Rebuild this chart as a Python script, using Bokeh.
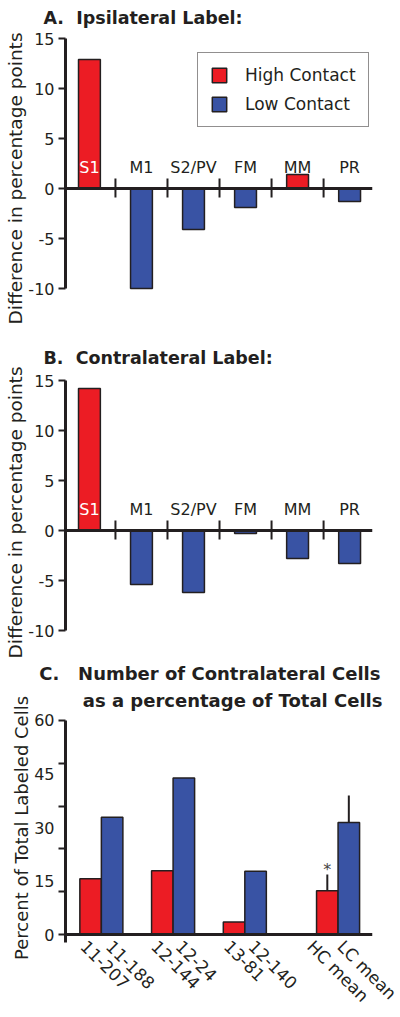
import math
from bokeh.plotting import figure
from bokeh.layouts import column
from bokeh.models import Range1d, LinearAxis, FixedTicker, Span, Title, ColumnDataSource
from bokeh.transform import factor_cmap
from bokeh.core.properties import value
from bokeh.embed import file_html
from bokeh.resources import INLINE

# ---------------- data ----------------
regions = ["S1", "M1", "S2/PV", "FM", "MM", "PR"]
ipsi_diff = [12.9, -10.0, -4.1, -1.9, 1.4, -1.3]
ipsi_group = ["High Contact", "Low Contact", "Low Contact", "Low Contact", "High Contact", "Low Contact"]
contra_diff = [14.2, -5.4, -6.2, -0.3, -2.8, -3.3]
contra_group = ["High Contact", "Low Contact", "Low Contact", "Low Contact", "Low Contact", "Low Contact"]

hc_cases = ["11-207", "12-144", "13-81", "HC mean"]
hc_pct = [15.6, 17.9, 3.5, 12.3]
lc_cases = ["11-188", "12-24", "12-140", "LC mean"]
lc_pct = [32.9, 43.9, 17.7, 31.4]
hc_mean_err = 4.5
lc_mean_err = 7.6

diff_ticks = [-10, -5, 0, 5, 10, 15]
pct_label_ticks = [0, 15, 30, 45, 60]
pct_mark_ticks = [0, 12, 24, 36, 48, 60]
groups = ["High Contact", "Low Contact"]

# ---------------- style / layout ----------------
FONT = "DejaVu Sans"
RED = "#EC1C24"
BLUE = "#3953A4"
INK = "#231F20"
W = 400
NB = "\u00a0"


def label_axis(p, label, size, standoff):
    lab = LinearAxis(ticker=FixedTicker(ticks=[]), axis_line_color=None,
                     major_tick_line_color=None, minor_tick_line_color=None,
                     major_label_standoff=0, major_tick_out=0, major_tick_in=0,
                     axis_label=label, axis_label_standoff=standoff,
                     axis_label_text_font=FONT, axis_label_text_font_size=size,
                     axis_label_text_font_style="normal", axis_label_text_color=INK)
    p.add_layout(lab, "left")


def style_y(ax):
    ax.axis_line_width = 3
    ax.axis_line_color = INK
    ax.major_tick_in = 0
    ax.major_tick_out = 7
    ax.major_tick_line_width = 2
    ax.major_tick_line_color = INK
    ax.minor_tick_line_color = None
    ax.major_label_text_font = FONT
    ax.major_label_text_font_size = "16px"
    ax.major_label_text_color = INK
    ax.major_label_standoff = 4


def diff_panel(title, vals, grp, height, top, bottom, y0, y1, legend):
    p = figure(width=W, height=height, output_backend="svg", toolbar_location=None,
               x_range=Range1d(0.04, 5.94), y_range=Range1d(y0, y1),
               x_axis_location=None, min_border_left=65, min_border_right=28,
               min_border_top=top, min_border_bottom=bottom)
    p.xgrid.visible = False
    p.ygrid.visible = False
    p.outline_line_color = None
    p.title.text = title
    p.title.text_font = FONT
    p.title.text_font_size = "17.5px"
    p.title.text_font_style = "bold"
    p.title.text_color = INK
    p.title.align = "left"
    p.title.offset = -22
    p.title.standoff = 6

    cat_x = [i + 0.5 for i in range(len(regions))]
    cds = ColumnDataSource(dict(x=cat_x, top=vals, group=grp))
    kw = dict(x="x", top="top", bottom=0, width=0.42, source=cds,
              fill_color=factor_cmap("group", [RED, BLUE], groups),
              line_color=INK, line_width=1.5)
    if legend:
        p.vbar(legend_group="group", **kw)
    else:
        p.vbar(**kw)

    p.add_layout(Span(location=0, dimension="width", line_color=INK, line_width=3))
    sep_x = list(range(1, len(regions)))
    p.segment(x0=sep_x, y0=[-0.9] * len(sep_x), x1=sep_x, y1=[1.0] * len(sep_x),
              line_color=INK, line_width=2)
    label_colors = ["white" if v > 2.1 else INK for v in vals]
    p.text(x=cat_x, y=[2.1] * len(cat_x), text=regions, text_color=label_colors,
           text_align="center", text_baseline="middle",
           text_font=value(FONT), text_font_size="16px")

    ax = p.yaxis[0]
    ax.ticker = FixedTicker(ticks=diff_ticks)
    ax.bounds = (min(diff_ticks), max(diff_ticks))
    ax.major_label_overrides = {t: str(t) for t in diff_ticks}
    style_y(ax)
    label_axis(p, "Difference in percentage points", "18.5px", 0)

    if legend:
        lg = p.legend[0]
        lg.location = (132, 199)
        lg.border_line_color = INK
        lg.border_line_width = 1.4
        lg.background_fill_color = "white"
        lg.background_fill_alpha = 1
        lg.glyph_width = 18
        lg.glyph_height = 18
        lg.label_height = 18
        lg.spacing = 9
        lg.padding = 12
        lg.margin = 0
        lg.label_standoff = 17
        lg.label_text_font = FONT
        lg.label_text_font_size = "17px"
        lg.label_text_color = INK
    return p


pA = diff_panel("A." + NB + NB + "Ipsilateral Label:", ipsi_diff, ipsi_group,
                330, 30, 4, -13.8, 15.8, True)
pB = diff_panel("B." + NB + NB + "Contralateral Label:", contra_diff, contra_group,
                328, 40, 4, -12.4, 16.0, False)

# ---------------- panel C ----------------
group_pos = [0.5, 1.5, 2.5, 3.8]
bw = 0.3
px_per_unit = 307 / 4.28
red_x = [g - bw / 2 for g in group_pos]
blue_x = [g + bw / 2 for g in group_pos]
red_label_shift_px = [-7, -8, -7, -17]
blue_label_shift_px = [-3, -5, -4, -8]

pC = figure(width=W, height=359, output_backend="svg", toolbar_location=None,
            x_range=Range1d(0, 4.28), y_range=Range1d(-2.52, 62.24),
            min_border_left=65, min_border_right=28, min_border_top=54, min_border_bottom=74)
pC.xgrid.visible = False
pC.ygrid.visible = False
pC.outline_line_color = None
pC.title.text = ""
t2 = Title(text="as a percentage of Total Cells", align="right", offset=-10, standoff=4,
           text_font=FONT, text_font_size="18px", text_font_style="bold", text_color=INK)
t1 = Title(text="C." + NB + NB + NB + "Number of Contralateral Cells", align="right", offset=-8,
           standoff=4, text_font=FONT, text_font_size="18px", text_font_style="bold",
           text_color=INK)
pC.add_layout(t2, "above")
pC.add_layout(t1, "above")

pC.vbar(x=red_x, top=hc_pct, bottom=0, width=bw, fill_color=RED, line_color=INK, line_width=1.5)
pC.vbar(x=blue_x, top=lc_pct, bottom=0, width=bw, fill_color=BLUE, line_color=INK, line_width=1.5)
pC.segment(x0=[red_x[-1], blue_x[-1]], y0=[hc_pct[-1], lc_pct[-1]],
           x1=[red_x[-1], blue_x[-1]], y1=[hc_pct[-1] + hc_mean_err, lc_pct[-1] + lc_mean_err],
           line_color=INK, line_width=2)
pC.text(x=[red_x[-1]], y=[hc_pct[-1] + hc_mean_err], text=["*"], text_align="center",
        text_baseline="alphabetic", y_offset=-5, text_color="#444444",
        text_font=value(FONT), text_font_size="16px")
pC.add_layout(Span(location=0, dimension="width", line_color=INK, line_width=3))

ay = pC.yaxis[0]
ay.ticker = FixedTicker(ticks=pct_label_ticks, minor_ticks=pct_mark_ticks)
ay.bounds = (-2.3, 60)
style_y(ay)
ay.major_tick_line_color = None
ay.minor_tick_in = 0
ay.minor_tick_out = 7
ay.minor_tick_line_width = 2
ay.minor_tick_line_color = INK
label_axis(pC, "Percent of Total Labeled Cells", "18px", 0)

ax = pC.xaxis[0]
red_lab_x = [x + s / px_per_unit for x, s in zip(red_x, red_label_shift_px)]
blue_lab_x = [x + s / px_per_unit for x, s in zip(blue_x, blue_label_shift_px)]
tick_x = red_lab_x + blue_lab_x
ax.ticker = FixedTicker(ticks=tick_x)
ax.major_label_overrides = {x: lab for x, lab in zip(tick_x, hc_cases + lc_cases)}
ax.major_label_orientation = -math.pi / 4
ax.axis_line_color = None
ax.major_tick_line_color = None
ax.minor_tick_line_color = None
ax.major_tick_out = 0
ax.major_tick_in = 0
ax.major_label_standoff = 0
ax.major_label_text_font = FONT
ax.major_label_text_font_size = "17px"
ax.major_label_text_color = INK

layout = column(pA, pB, pC)
open("out.html", "w").write(file_html(layout, INLINE))
